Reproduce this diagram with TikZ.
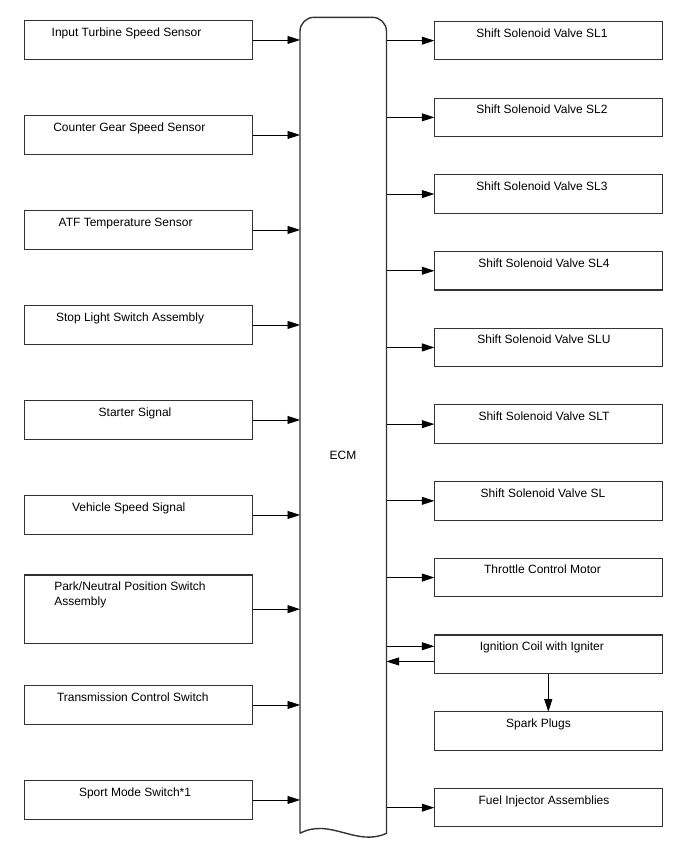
\documentclass[tikz,border=0pt]{standalone}
\usepackage{fontspec}
\setmainfont{Liberation Sans}
\usetikzlibrary{arrows.meta,calc}
\definecolor{edge}{HTML}{333333}
\tikzset{
  every node/.style={font=\fontsize{12}{15}\selectfont, text=black, inner sep=0pt, outer sep=0pt},
  box/.style={draw=edge, line width=1.1pt, fill=white, minimum width=228pt, minimum height=38.5pt, anchor=north west},
  tbox/.style={box, minimum height=68.3pt},
  lbl/.style={anchor=base west},
  rlbl/.style={anchor=base},
  arr/.style={draw=black, line width=0.8pt, -{Triangle[length=12.5pt,width=8pt]}},
  ecmshape/.style={draw=edge, line width=1.4pt, fill=white}
}
\begin{document}
\begin{tikzpicture}[x=1pt,y=-1pt]
\useasboundingbox (0,0) rectangle (688,852);
% ECM
\node[minimum width=86.5pt, minimum height=816pt, anchor=north west] (ecm) at (300,17.3) {};
\draw[ecmshape] (ecm.south west) -- ([yshift=-14pt]ecm.north west) arc[start angle=180,end angle=90,radius=14pt]
  -- ([xshift=-14pt]ecm.north east) arc[start angle=90,end angle=0,radius=14pt]
  -- (ecm.south east) .. controls ([xshift=-30pt,yshift=-14pt]ecm.south east) and ([xshift=30pt,yshift=16pt]ecm.south west) .. (ecm.south west);
\node[anchor=base] (ecmt) at (343,459) {ECM};
% Left boxes
\node[box] (l1) at (24.5,20.7) {};
\node[box] (l2) at (24.5,115.7) {};
\node[box] (l3) at (24.5,210.7) {};
\node[box] (l4) at (24.5,305.7) {};
\node[box] (l5) at (24.5,400.7) {};
\node[box] (l6) at (24.5,495.7) {};
\node[tbox] (l7) at (24.5,575) {};
\node[box] (l8) at (24.5,685.7) {};
\node[box] (l9) at (24.5,780.7) {};
\node[lbl] (l1t) at (51.7,36) {Input Turbine Speed Sensor};
\node[lbl] (l2t) at (53.3,131.5) {Counter Gear Speed Sensor};
\node[lbl] (l3t) at (58.7,226.3) {ATF Temperature Sensor};
\node[lbl] (l4t) at (56,321.3) {Stop Light Switch Assembly};
\node[lbl] (l5t) at (98.7,416.3) {Starter Signal};
\node[lbl] (l6t) at (72,511.3) {Vehicle Speed Signal};
\node[lbl, align=left] (l7t) at (54.3,605.3) {Park/Neutral Position Switch\\Assembly};
\node[lbl] (l8t) at (57,701.3) {Transmission Control Switch};
\node[lbl] (l9t) at (79,796.3) {Sport Mode Switch*1};
\foreach \n in {l1,l2,l3,l4,l5,l6,l7,l8,l9}
  \draw[arr] (\n.east) -- (\n.east -| ecm.west);
% Right boxes
\node[box] (r1) at (434.3,21.4) {};
\node[box] (r2) at (434.3,98.1) {};
\node[box] (r3) at (434.3,174.8) {};
\node[box] (r4) at (434.3,251.5) {};
\node[box] (r5) at (434.3,328.2) {};
\node[box] (r6) at (434.3,404.9) {};
\node[box] (r7) at (434.3,481.6) {};
\node[box] (r8) at (434.3,558.3) {};
\node[box] (ign) at (434.3,635) {};
\node[box] (spk) at (434.3,711.7) {};
\node[box] (fuel) at (434.3,788.4) {};
\node[rlbl] (r1t) at (542,37) {Shift Solenoid Valve SL1};
\node[rlbl] (r2t) at (542,113.7) {Shift Solenoid Valve SL2};
\node[rlbl] (r3t) at (542,190.4) {Shift Solenoid Valve SL3};
\node[rlbl] (r4t) at (544,267.1) {Shift Solenoid Valve SL4};
\node[rlbl] (r5t) at (544,343.8) {Shift Solenoid Valve SLU};
\node[rlbl] (r6t) at (544,420.5) {Shift Solenoid Valve SLT};
\node[rlbl] (r7t) at (543,497.2) {Shift Solenoid Valve SL};
\node[rlbl] (r8t) at (542.5,573.9) {Throttle Control Motor};
\node[rlbl] (ignt) at (541.9,650.8) {Ignition Coil with Igniter};
\node[rlbl] (spkt) at (538.5,727) {Spark Plugs};
\node[rlbl] (fuelt) at (544,804) {Fuel Injector Assemblies};
\foreach \n in {r1,r2,r3,r4,r5,r6,r7,r8,fuel}
  \draw[arr] (\n.west -| ecm.east) -- (\n.west);
\draw[arr] ([yshift=8pt]ign.west -| ecm.east) -- ([yshift=8pt]ign.west);
\draw[arr] ([yshift=-7.2pt]ign.west) -- ([yshift=-7.2pt]ign.west -| ecm.east);
\draw[arr] (ign.south) -- (spk.north);
\end{tikzpicture}
\end{document}
